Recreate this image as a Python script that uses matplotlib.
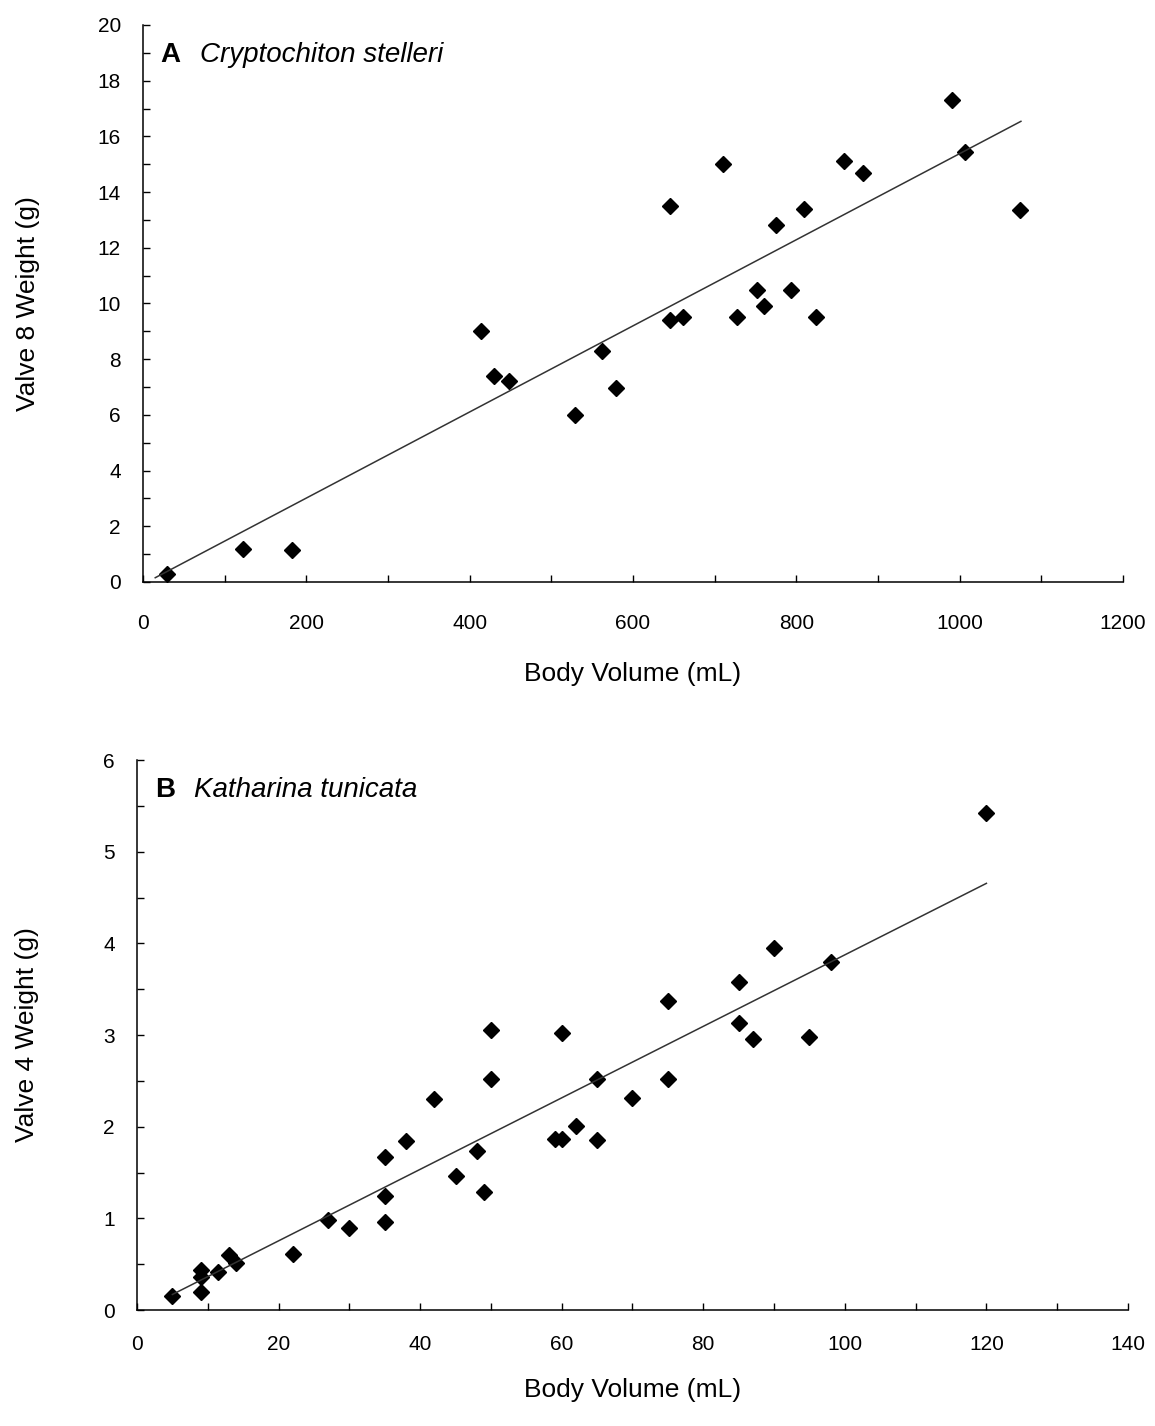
import matplotlib.pyplot as plt
import numpy as np
from matplotlib.ticker import MultipleLocator

# panel A: Cryptochiton stelleri
vol_a = [29, 122, 182, 414, 430, 448, 529, 562, 579, 645, 645, 661, 710,
         727, 752, 761, 775, 793, 809, 824, 858, 882, 990, 1007, 1074]
valve8 = [0.3, 1.2, 1.15, 9.0, 7.4, 7.2, 6.0, 8.3, 6.95, 13.5, 9.4, 9.5, 15.0,
          9.5, 10.5, 9.9, 12.8, 10.5, 13.4, 9.5, 15.1, 14.7, 17.3, 15.45, 13.36]
# trend line (slope, intercept, x range)
fit_a = (0.01546, -0.08)
fit_a_range = (15, 1075)

# panel B: Katharina tunicata
vol_b = [5, 9, 9, 9, 11.5, 13, 14, 22, 27, 30, 35, 35, 35, 38, 42, 45, 48, 49,
         50, 50, 59, 60, 60, 62, 65, 65, 70, 75, 75, 85, 85, 87, 90, 95, 98, 120]
valve4 = [0.15, 0.44, 0.36, 0.2, 0.41, 0.6, 0.51, 0.61, 0.98, 0.9, 0.96, 1.24,
          1.67, 1.84, 2.30, 1.46, 1.74, 1.29, 3.05, 2.52, 1.87, 1.87, 3.02,
          2.01, 2.52, 1.86, 2.31, 3.37, 2.52, 3.58, 3.13, 2.96, 3.95, 2.98,
          3.80, 5.42]
fit_b = (0.0390, -0.025)
fit_b_range = (5, 120)

plt.rcParams['font.family'] = ['Liberation Sans', 'DejaVu Sans']

fig = plt.figure(figsize=(11.55, 14.26), dpi=100)
ax_a = fig.add_axes([0.1238, 0.5919, 0.8485, 0.3906])
ax_b = fig.add_axes([0.1186, 0.0813, 0.858, 0.3857])


def style_axis(ax, xmax, xmaj, xmin, ymax, ymaj, ymin, xpad):
    ax.set_xlim(0, xmax)
    ax.set_ylim(0, ymax)
    ax.xaxis.set_major_locator(MultipleLocator(xmaj))
    ax.xaxis.set_minor_locator(MultipleLocator(xmin))
    ax.yaxis.set_major_locator(MultipleLocator(ymaj))
    ax.yaxis.set_minor_locator(MultipleLocator(ymin))
    for side in ['top', 'right']:
        ax.spines[side].set_visible(False)
    for side in ['left', 'bottom']:
        ax.spines[side].set_linewidth(1.1)
    ax.tick_params(axis='both', which='both', direction='in', length=5,
                   width=1.0, labelsize=15)
    ax.tick_params(axis='x', which='major', pad=xpad)
    ax.tick_params(axis='y', which='major', pad=16)


def draw_panel(ax, x, y, fit, xr, letter, species, ylabel, xlpad, ylx):
    ax.plot(x, y, linestyle='none', marker='D', markersize=8.5, color='black')
    xs = np.array(xr)
    ax.plot(xs, fit[0] * xs + fit[1], color='#333333', linewidth=1.1)
    ax.text(0.018, 0.97, letter, transform=ax.transAxes, fontsize=20,
            fontweight='bold', va='top')
    ax.text(0.058, 0.97, species, transform=ax.transAxes, fontsize=20,
            style='italic', va='top')
    ax.set_xlabel('Body Volume (mL)', fontsize=19, labelpad=xlpad)
    ax.set_ylabel(ylabel, fontsize=19)
    ax.yaxis.set_label_coords(ylx, 0.5)


style_axis(ax_a, 1200, 200, 100, 20, 2, 1, xpad=23)
draw_panel(ax_a, vol_a, valve8, fit_a, fit_a_range, 'A', 'Cryptochiton stelleri',
           'Valve 8 Weight (g)', xlpad=21, ylx=-0.105)

style_axis(ax_b, 140, 20, 10, 6, 1, 0.5, xpad=18)
draw_panel(ax_b, vol_b, valve4, fit_b, fit_b_range, 'B', 'Katharina tunicata',
           'Valve 4 Weight (g)', xlpad=17, ylx=-0.099)

fig.savefig('out.png', dpi=100, facecolor='white')
